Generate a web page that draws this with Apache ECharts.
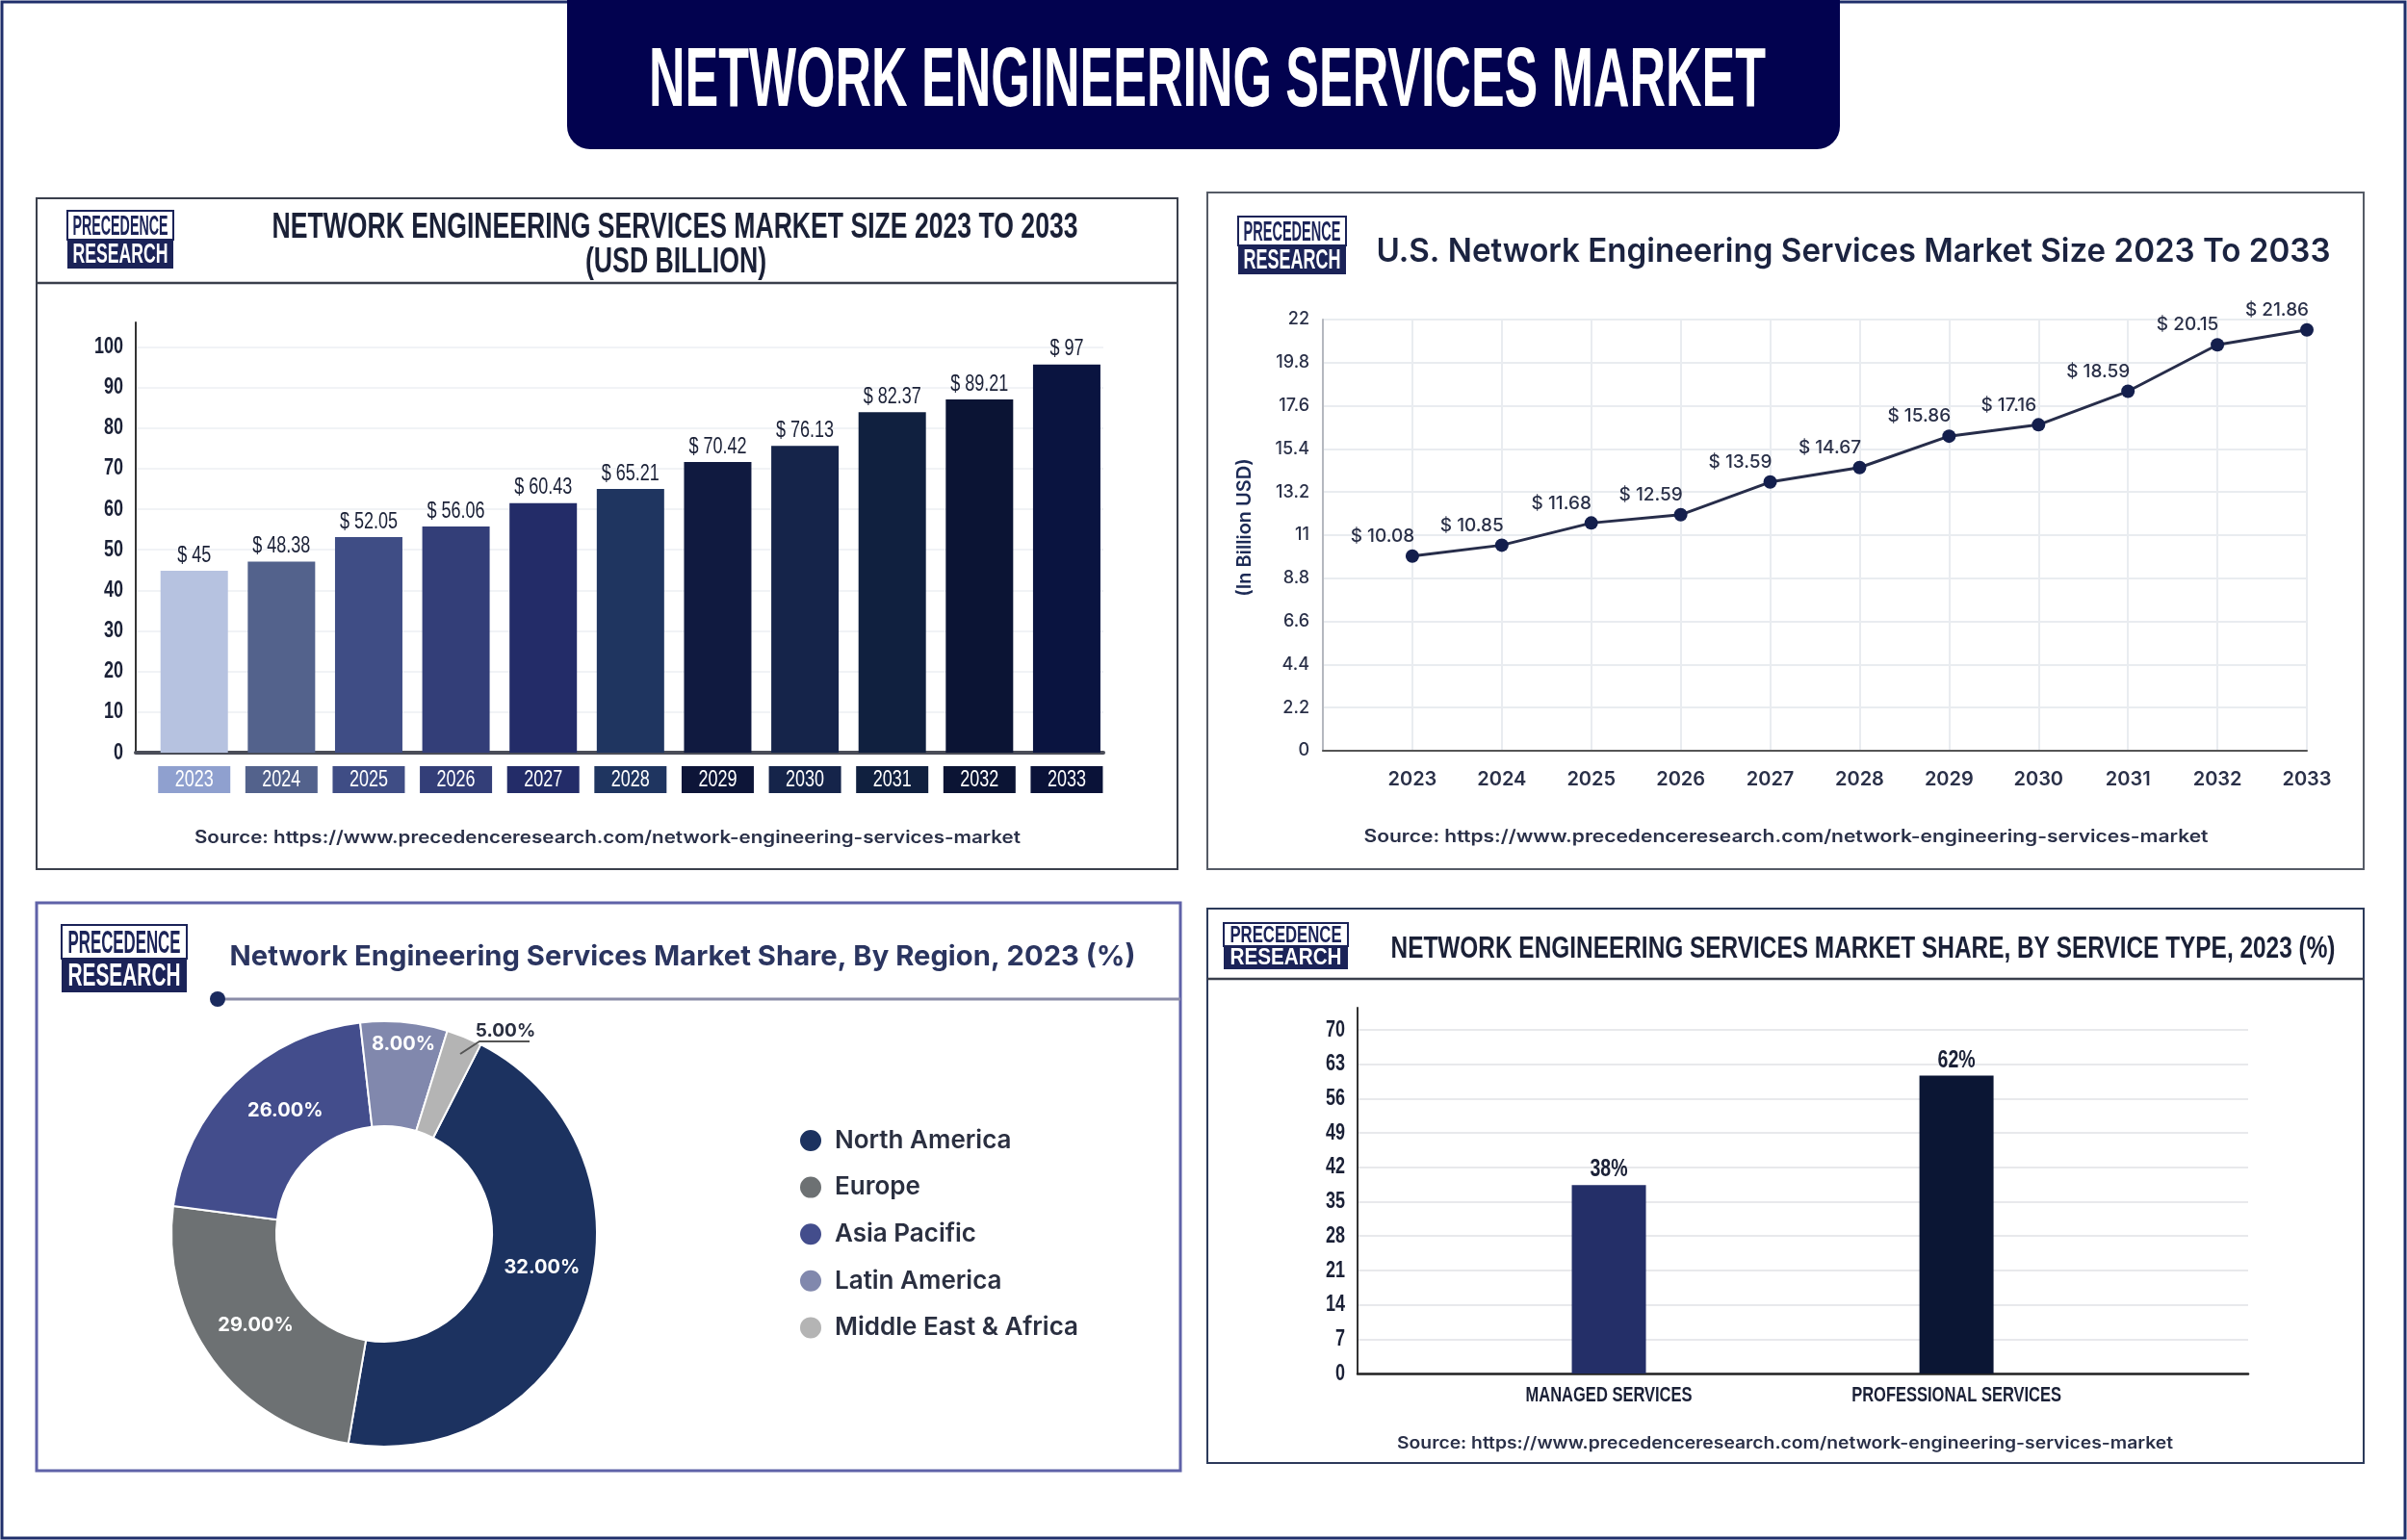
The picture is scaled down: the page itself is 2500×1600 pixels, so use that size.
<!DOCTYPE html>
<html>
<head>
<meta charset="utf-8">
<title>Network Engineering Services Market</title>
<script src="https://cdn.jsdelivr.net/npm/echarts@6/dist/echarts.min.js"></script>
<style>
  html, body { margin: 0; padding: 0; background: #fff; }
  #main { width: 2500px; height: 1600px; }
</style>
</head>
<body>
<div id="main"></div>
<script>
// the printed figures do not always agree with the drawn marks, so both are read off the picture:
// *Label arrays are what is printed, *Drawn arrays are the height / arc the mark has
const years = [2023, 2024, 2025, 2026, 2027, 2028, 2029, 2030, 2031, 2032, 2033];
const marketLabel = [45, 48.38, 52.05, 56.06, 60.43, 65.21, 70.42, 76.13, 82.37, 89.21, 97];
const marketDrawn = [44.8, 47.1, 53.1, 55.7, 61.5, 65.0, 71.6, 75.6, 83.9, 87.0, 95.6];
const usLabel = [10.08, 10.85, 11.68, 12.59, 13.59, 14.67, 15.86, 17.16, 18.59, 20.15, 21.86];
const usDrawn = [9.93, 10.49, 11.62, 12.04, 13.71, 14.45, 16.05, 16.63, 18.34, 20.71, 21.47];
const regions = ['North America', 'Europe', 'Asia Pacific', 'Latin America', 'Middle East & Africa'];
const regionLabel = [32, 29, 26, 8, 5];
const regionDrawn = [45.2, 24.4, 21.1, 6.6, 2.7];
const serviceTypes = ['MANAGED SERVICES', 'PROFESSIONAL SERVICES'];
const serviceLabel = [38, 62];
const serviceDrawn = [38.4, 60.7];

const SOURCE = 'Source: https://www.precedenceresearch.com/network-engineering-services-market';
const TITLE_FONT = '"Liberation Sans",sans-serif';
const NARROW = '"Liberation Sans",Arimo,sans-serif'; // labels in this family get squeezed after render
const SQUEEZE = 0.75;
const YEAR_BOX = 75;
const SANS = 'Inter,"Noto Sans",sans-serif';
const NAVY = '#1b2358';

const barColors = ['#b6c2e0', '#53628c', '#3f4d85', '#333e78', '#232c68', '#1f3560', '#101a40', '#15244a', '#10203f', '#0b1434', '#0a1440'];
const boxColors = ['#8fa0cf', '#53628c', '#3f4d85', '#333e78', '#232c68', '#1f3560', '#0d1538', '#15244a', '#10203f', '#0b1434', '#0a1238'];
const regionColors = ['#1c3260', '#6d7173', '#434d8c', '#8188ad', '#b4b4b4'];
const serviceColors = ['#242f68', '#0b1634'];

const measureCtx = document.createElement('canvas').getContext('2d');

// text squeezed to the width it has in the picture
function fitText(text, cx, cy, width, font, fill) {
  measureCtx.font = font;
  const size = parseInt(font.match(/(\d+)px/)[1], 10);
  return {
    type: 'text', x: cx, y: cy + size * 0.06, scaleX: width / measureCtx.measureText(text).width,
    style: { text: text, font: font, fill: fill, textAlign: 'center', textVerticalAlign: 'middle' }
  };
}

function frame(x0, y0, x1, y1, color, lineWidth) {
  return {
    type: 'rect', shape: { x: x0, y: y0, width: x1 - x0, height: y1 - y0 },
    style: { fill: 'none', stroke: color, lineWidth: lineWidth }
  };
}

function hLine(x0, x1, y, color, lineWidth) {
  return { type: 'line', shape: { x1: x0, y1: y, x2: x1, y2: y }, style: { stroke: color, lineWidth: lineWidth } };
}

function logo(x, y, w, h) {
  const half = h / 2;
  const font = 'bold ' + Math.round(half * 0.95) + 'px ' + TITLE_FONT;
  return [
    { type: 'rect', shape: { x: x, y: y, width: w, height: half }, style: { fill: '#fff', stroke: NAVY, lineWidth: 2 } },
    { type: 'rect', shape: { x: x, y: y + half, width: w, height: half }, style: { fill: NAVY } },
    fitText('PRECEDENCE', x + w / 2, y + half * 0.5, w * 0.9, font, NAVY),
    fitText('RESEARCH', x + w / 2, y + half * 1.47, w * 0.9, font, '#fff')
  ];
}

const yearBoxes = {};
boxColors.forEach(function (c, i) {
  yearBoxes['y' + i] = { backgroundColor: c, width: YEAR_BOX, height: 28, lineHeight: 28, align: 'center', color: '#fff', fontFamily: NARROW, fontSize: 24 };
});

const graphics = [
  frame(2, 2, 2498, 1598, '#1f2f6b', 3),
  { type: 'rect', shape: { x: 589, y: -30, width: 1322, height: 185, r: 24 }, style: { fill: '#02024f' } },
  fitText('NETWORK ENGINEERING SERVICES MARKET', 1254, 80, 1160, 'bold 88px ' + TITLE_FONT, '#fff'),

  frame(38, 206, 1223, 903, '#3a3f4c', 2),
  hLine(38, 1223, 294, '#3a3f4c', 2.5),
  fitText('NETWORK ENGINEERING SERVICES MARKET SIZE 2023 TO 2033', 701, 235, 837, 'bold 37px ' + TITLE_FONT, '#1a2036'),
  fitText('(USD BILLION)', 702, 271, 188, 'bold 37px ' + TITLE_FONT, '#1a2036'),
  fitText(SOURCE, 631, 870, 858, '600 18px ' + SANS, '#2a3048'),

  frame(1254, 200, 2455, 903, '#555b66', 2),
  fitText('U.S. Network Engineering Services Market Size 2023 To 2033', 1925, 260, 991, '600 34px ' + SANS, '#1b2340'),
  fitText(SOURCE, 1855, 869, 877, '600 18px ' + SANS, '#2a3048'),

  frame(38, 938, 1226, 1528, '#5f62a8', 3),
  { type: 'line', shape: { x1: 226, y1: 1038, x2: 1226, y2: 1038 }, style: { stroke: '#8a8ca8', lineWidth: 3 } },
  { type: 'circle', shape: { cx: 226, cy: 1038, r: 8 }, style: { fill: '#1a2a5e' } },
  fitText('Network Engineering Services Market Share, By Region, 2023 (%)', 709, 993, 941, '700 29px ' + SANS, '#2b3560'),
  { type: 'polyline', z: 10, shape: { points: [[478, 1095], [498, 1082], [550, 1082]] }, style: { fill: 'none', stroke: '#555', lineWidth: 2 } },

  frame(1254, 944, 2455, 1520, '#2c3a5a', 2),
  hLine(1254, 2455, 1017, '#3a3f4c', 2.5),
  fitText('NETWORK ENGINEERING SERVICES MARKET SHARE, BY SERVICE TYPE, 2023 (%)', 1935, 985, 981, 'bold 31px ' + TITLE_FONT, '#1a2036'),
  fitText(SOURCE, 1854, 1499, 806, '600 17px ' + SANS, '#2a3048')
].concat(logo(70, 219, 110, 60), logo(1286, 225, 112, 60), logo(64, 961, 130, 70), logo(1271, 959, 129, 48));

// per-slice shift of the labels from the ring centre
const pieLabelShift = [[3, -18], [3, -6], [16, -7], [4, -28]];

const option = {
  animation: false,
  backgroundColor: '#fff',
  graphic: graphics,
  grid: [
    { left: 141, top: 335, width: 1005, height: 447 },
    { left: 1374, top: 332, width: 1022, height: 448 },
    { left: 1410, top: 1047, width: 925, height: 380 }
  ],
  xAxis: [
    {
      gridIndex: 0, type: 'value', min: -0.67, max: 10.42,
      splitLine: { show: false }, axisTick: { show: false },
      axisLine: { lineStyle: { color: '#4a4d58', width: 4 } },
      axisLabel: {
        customValues: years.map(function (y, i) { return i; }), margin: 14,
        formatter: function (v) { return '{y' + v + '|' + years[v] + '}'; },
        rich: yearBoxes
      }
    },
    {
      gridIndex: 1, type: 'value', min: 2022, max: 2033, interval: 1,
      axisTick: { show: false },
      axisLine: { lineStyle: { color: '#555', width: 2 } },
      splitLine: { lineStyle: { color: '#e9ecf0', width: 2 } },
      axisLabel: {
        customValues: years, margin: 20, color: '#2a3048', fontFamily: SANS, fontWeight: 600, fontSize: 20,
        formatter: function (v) { return String(v); }
      }
    },
    {
      gridIndex: 2, type: 'value', min: -0.723, max: 1.839,
      splitLine: { show: false }, axisTick: { show: false },
      axisLine: { lineStyle: { color: '#222', width: 2.5 } },
      axisLabel: {
        customValues: [0, 1], margin: 12, color: '#1a2036', fontFamily: NARROW, fontWeight: 'bold', fontSize: 22,
        formatter: function (v) { return serviceTypes[v]; }
      }
    }
  ],
  yAxis: [
    {
      gridIndex: 0, type: 'value', min: 0, max: 106, interval: 10,
      axisTick: { show: false },
      axisLine: { show: true, onZero: false, lineStyle: { color: '#333', width: 2 } },
      splitLine: { showMaxLine: false, lineStyle: { color: '#f1f3f6', width: 2 } },
      axisLabel: { showMaxLabel: false, margin: 13, color: '#1a2036', fontFamily: NARROW, fontWeight: 'bold', fontSize: 24 }
    },
    {
      gridIndex: 1, type: 'value', min: 0, max: 22, interval: 2.2,
      name: '(In Billion USD)', nameLocation: 'middle', nameGap: 71, nameRotate: 90,
      nameTextStyle: { color: '#1c2a55', fontFamily: SANS, fontWeight: 600, fontSize: 20, padding: [0, 0, 0, 16] },
      axisTick: { show: false },
      axisLine: { show: true, onZero: false, lineStyle: { color: '#b5b8bf', width: 2 } },
      splitLine: { lineStyle: { color: '#e9ecf0', width: 2 } },
      axisLabel: { margin: 14, color: '#2a3048', fontFamily: SANS, fontWeight: 500, fontSize: 18 }
    },
    {
      gridIndex: 2, type: 'value', min: 0, max: 74.5, interval: 7,
      axisTick: { show: false },
      axisLine: { show: true, onZero: false, lineStyle: { color: '#333', width: 2 } },
      splitLine: { showMaxLine: false, lineStyle: { color: '#e8e9ec', width: 2 } },
      axisLabel: { showMaxLabel: false, margin: 13, color: '#1a2036', fontFamily: NARROW, fontWeight: 'bold', fontSize: 24 }
    }
  ],
  legend: {
    orient: 'vertical', left: 824, top: 1167, icon: 'circle',
    itemWidth: 24, itemHeight: 24, itemGap: 22.6,
    data: regions,
    textStyle: { color: '#2a2f40', fontFamily: SANS, fontWeight: 600, fontSize: 26, padding: [0, 0, 0, 8] }
  },
  series: [
    {
      type: 'bar', xAxisIndex: 0, yAxisIndex: 0, barWidth: 70,
      data: marketDrawn.map(function (v, i) {
        return { value: [i, v], itemStyle: { color: barColors[i] } };
      }),
      label: {
        show: true, position: 'top', distance: 4, color: '#1a2036', fontFamily: NARROW, fontSize: 24,
        formatter: function (p) { return '$ ' + marketLabel[p.dataIndex]; }
      }
    },
    {
      type: 'line', xAxisIndex: 1, yAxisIndex: 1,
      data: usDrawn.map(function (v, i) { return [years[i], v]; }),
      symbol: 'circle', symbolSize: 14,
      lineStyle: { color: '#272d4a', width: 3 },
      itemStyle: { color: '#141f4d' },
      label: {
        show: true, position: 'top', offset: [-31, 1], color: '#2a3048', fontFamily: SANS, fontWeight: 500, fontSize: 19,
        formatter: function (p) { return '$ ' + usLabel[p.dataIndex].toFixed(2); }
      }
    },
    {
      type: 'bar', xAxisIndex: 2, yAxisIndex: 2, barWidth: 77,
      data: serviceDrawn.map(function (v, i) {
        return { value: [i, v], itemStyle: { color: serviceColors[i] } };
      }),
      label: {
        show: true, position: 'top', distance: 3, color: '#1a2036', fontFamily: NARROW, fontWeight: 'bold', fontSize: 26,
        formatter: function (p) { return serviceLabel[p.dataIndex] + '%'; }
      }
    },
    {
      type: 'pie', center: [399, 1282], radius: [112, 221], startAngle: 63, clockwise: true,
      itemStyle: { borderColor: '#fff', borderWidth: 2 },
      color: regionColors,
      data: regions.map(function (name, i) {
        const item = { name: name, value: regionDrawn[i] };
        if (i === 4) {
          item.label = { position: 'outside', color: '#2a2f40', fontSize: 19 };
          item.labelLine = { show: false };
        }
        return item;
      }),
      label: {
        position: 'inside', color: '#fff', fontFamily: SANS, fontWeight: 700, fontSize: 20,
        formatter: function (p) { return regionLabel[p.dataIndex].toFixed(2) + '%'; }
      },
      labelLayout: function (p) {
        if (p.dataIndex === 4) {
          return { x: 525, y: 1071, align: 'center', verticalAlign: 'middle' };
        }
        return { dx: pieLabelShift[p.dataIndex][0], dy: pieLabelShift[p.dataIndex][1] };
      }
    }
  ]
};

const chart = echarts.init(document.getElementById('main'));
chart.setOption(option);

// no condensed font is installed: squeeze axis and bar labels sideways to look like the original.
// the year boxes are widened first so they keep their width, after the axis has done its overlap check
function squeezeLabel(el) {
  if (!el || el.type !== 'text' || !el.style) return;
  const family = String(el.style.fontFamily || el.style.font || '');
  if (el.style.rich) {
    Object.keys(el.style.rich).forEach(function (key) {
      el.style.rich[key].width = YEAR_BOX / SQUEEZE;
    });
    el.dirtyStyle();
    el.scaleX = SQUEEZE;
  } else if (family.indexOf('Arimo') >= 0) {
    el.scaleX = SQUEEZE;
    el.markRedraw();
  }
}
chart.getZr().storage.traverse(function (el) {
  squeezeLabel(el);
  // bar labels hang off their rect and are not reached by the traversal
  if (el.getTextContent) squeezeLabel(el.getTextContent());
});
</script>
</body>
</html>
